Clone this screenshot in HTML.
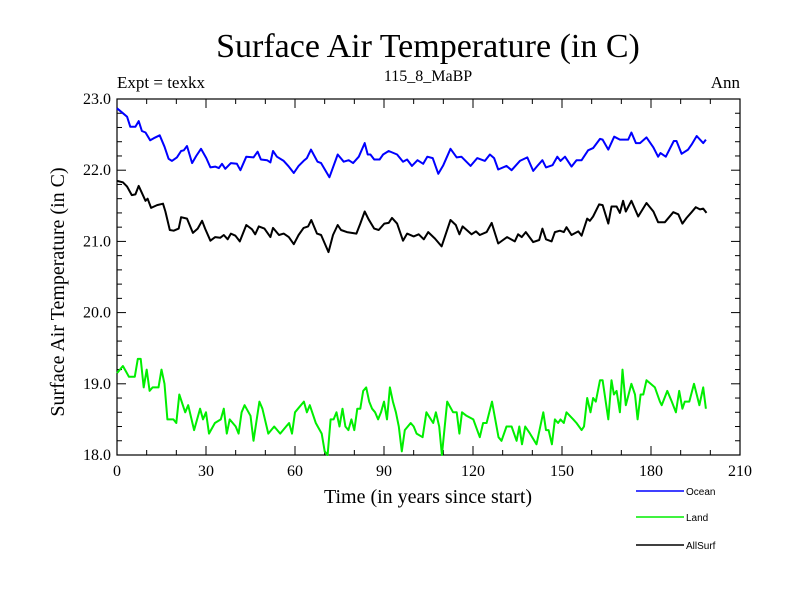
<!DOCTYPE html>
<html><head><meta charset="utf-8"><style>
body{margin:0;background:#fff}
svg text{font-family:"Liberation Serif",serif;fill:#000}
</style></head><body>
<svg id="chart" width="800" height="600" viewBox="0 0 800 600">
<text x="428" y="57" font-size="34" text-anchor="middle">Surface Air Temperature (in C)</text>
<text x="117" y="88" font-size="17">Expt = texkx</text>
<text x="428" y="81" font-size="16" text-anchor="middle">115_8_MaBP</text>
<text x="740" y="88" font-size="17" text-anchor="end">Ann</text>
<text transform="translate(64,292) rotate(-90)" font-size="20" text-anchor="middle">Surface Air Temperature (in C)</text>
<text x="428" y="503" font-size="20" text-anchor="middle">Time (in years since start)</text>
<g id="axes"></g>
<g id="series"></g>
<g id="legend"></g>
</svg>
<script>
const xTicks=[0,30,60,90,120,150,180,210];
const yTicks=[18.0,19.0,20.0,21.0,22.0,23.0];
const oceanYears=[0,2,3.4,4.5,6.2,7.3,8.4,9.6,11.2,12.4,14.4,16,17.4,18.5,20.2,21.6,22.5,23.6,25.3,26.7,28.3,30.1,31.5,33.1,34.3,35.4,36.5,38.4,40.4,41.6,43.6,46,47.4,48.5,50.6,51.7,52.6,53.9,56.2,57.9,59.6,61.2,62.9,64,65.4,67.6,68.8,71.6,74.4,76.4,78.1,79.6,81.5,83.5,84.5,85.4,86.7,88.5,89.7,91.6,94.4,96.4,97.8,99.4,101.3,103.2,104.6,106.4,108.3,110,112.4,114.5,116.1,119.2,121.4,124,125.7,127.1,128.5,131.3,133,135.8,138.3,140.3,141.7,143.4,144.6,146.8,148.4,149.5,151,153.2,154.9,156.6,158.8,160.5,162.8,163.7,165.6,167.6,169.5,172.3,173.4,174.9,176.3,178.5,180.8,182.4,183.2,185,187.7,188.6,190.3,192.5,193.7,195.4,197.6,198.5];
const oceanVals=[22.87,22.8,22.75,22.61,22.61,22.69,22.55,22.53,22.42,22.45,22.49,22.33,22.16,22.13,22.18,22.27,22.28,22.34,22.1,22.2,22.3,22.17,22.04,22.05,22.03,22.09,22.02,22.1,22.09,22.0,22.19,22.18,22.26,22.15,22.14,22.11,22.27,22.19,22.13,22.05,21.96,22.06,22.13,22.17,22.29,22.12,22.1,21.9,22.22,22.12,22.14,22.1,22.19,22.38,22.22,22.22,22.15,22.15,22.22,22.27,22.22,22.12,22.15,22.06,22.14,22.09,22.19,22.17,21.95,22.07,22.3,22.18,22.19,22.06,22.17,22.13,22.22,22.17,22.01,22.06,22.0,22.13,22.18,21.99,22.06,22.14,22.04,22.07,22.19,22.13,22.19,22.05,22.14,22.14,22.28,22.31,22.44,22.43,22.29,22.47,22.43,22.43,22.53,22.38,22.38,22.46,22.32,22.19,22.24,22.19,22.41,22.41,22.23,22.29,22.36,22.48,22.38,22.43];
const allYears=[0,2,3.4,5,6.2,7.3,9.6,10.3,11.5,13.5,15.5,16.3,17.8,19.1,20.8,21.6,23.6,25.6,27.2,28.7,29.7,31.5,33.1,34.8,36,37.3,38.4,39.9,41.4,43.6,45.5,46.6,47.8,49.7,51.7,52.6,54.6,56.2,57.9,59.6,61.2,62.9,64.4,65.5,67.4,68.8,71.3,72.8,74.4,75.5,77.5,80.7,82,83.5,84.8,86.7,88.2,90.1,91.6,92.7,94.4,96.4,97.8,100,101.7,103.4,104.9,107.2,109.4,112.4,114.2,115.4,116.5,119.5,121,122.3,124.6,126.3,128.5,131.5,134.1,135.2,136.4,137.8,140.3,142.3,143.4,144.6,146.5,147.6,149.3,150.6,151.5,153.2,155.5,156.6,158.5,159.4,160.5,162.5,163.7,165.6,166.7,168.4,169.5,170.6,171.5,173.4,175.7,178.5,180.8,182.4,184.7,187.5,189.2,190.6,192,193.7,195.1,196.5,197.6,198.7];
const allVals=[21.85,21.83,21.77,21.65,21.66,21.78,21.57,21.6,21.47,21.51,21.53,21.42,21.16,21.15,21.18,21.34,21.32,21.12,21.18,21.29,21.18,21.01,21.06,21.05,21.09,21.03,21.11,21.08,21.0,21.23,21.17,21.1,21.21,21.18,21.06,21.19,21.09,21.11,21.06,20.96,21.09,21.19,21.21,21.3,21.11,21.09,20.85,21.09,21.23,21.16,21.13,21.11,21.25,21.42,21.31,21.18,21.16,21.25,21.26,21.33,21.25,21.01,21.11,21.07,21.1,21.03,21.13,21.04,20.93,21.3,21.23,21.1,21.21,21.1,21.14,21.09,21.13,21.26,20.97,21.06,21.0,21.1,21.06,21.13,20.99,21.02,21.18,21.03,21.0,21.13,21.15,21.13,21.2,21.09,21.14,21.08,21.32,21.29,21.35,21.52,21.51,21.25,21.49,21.49,21.4,21.57,21.42,21.57,21.35,21.54,21.42,21.27,21.27,21.41,21.38,21.25,21.33,21.41,21.48,21.45,21.46,21.4];
const landYears=[0,2,4,6,7,8,9,10,11,12,14,15,16,17,19,20,21,23,24,26,28,29,30,31,33,35,36,37,38,40,41,42,43,45,46,48,49,51,53,55,57,58,59,60,61,63,64,65,67,69,70,71,72,73,74,75,76,77,78,79,80,81,82,83,84,85,86,87,88,89,90,91,92,93,94,95,96,97,99,100,101,103,104.3,106.6,107.5,108.6,109.5,111.3,113.3,114.5,115.4,116.3,117.8,120.1,122.3,123.4,124.6,126.4,128.6,129.6,131.3,133,134.7,135.6,136.5,137.6,139.2,141.4,143.7,144.6,145.5,146.6,147.6,148.7,149.5,150.6,151.5,153.8,154.9,156.6,157.4,158.5,159.6,160.5,161.4,162.8,163.7,165.6,166.7,167.5,168.4,169.5,170.4,171.5,173.4,174.6,175.5,176.5,177.4,178.5,181.3,183,183.6,185.5,187,188.4,189.5,190.6,191.4,192.9,194.5,196.3,197.6,198.5];
const landVals=[19.15,19.25,19.1,19.1,19.35,19.35,18.95,19.2,18.9,18.95,18.95,19.2,19.0,18.5,18.5,18.45,18.85,18.6,18.7,18.35,18.65,18.5,18.6,18.3,18.45,18.5,18.65,18.3,18.5,18.4,18.3,18.6,18.7,18.55,18.2,18.75,18.65,18.3,18.4,18.3,18.4,18.45,18.3,18.6,18.65,18.75,18.6,18.7,18.45,18.3,18.05,18.0,18.5,18.5,18.6,18.4,18.65,18.4,18.35,18.5,18.35,18.65,18.65,18.9,18.95,18.75,18.65,18.6,18.5,18.6,18.75,18.5,18.95,18.75,18.6,18.4,18.05,18.35,18.45,18.4,18.3,18.25,18.6,18.45,18.6,18.4,18.0,18.75,18.6,18.6,18.3,18.6,18.55,18.5,18.25,18.45,18.45,18.75,18.25,18.2,18.4,18.4,18.2,18.4,18.15,18.4,18.3,18.15,18.6,18.35,18.35,18.15,18.5,18.45,18.5,18.45,18.6,18.5,18.45,18.35,18.4,18.8,18.6,18.8,18.75,19.05,19.05,18.5,19.05,18.85,18.9,18.6,19.2,18.7,19.0,18.85,18.5,18.85,18.85,19.05,18.95,18.75,18.7,18.9,18.75,18.6,18.9,18.65,18.75,18.75,19.0,18.7,18.95,18.65];

const NS="http://www.w3.org/2000/svg";
const X0=117,X1=740,Y0=455,Y1=99;
function sx(v){return X0+(v-0)/(210-0)*(X1-X0);}
function sy(v){return Y0-(v-18)/(23-18)*(Y0-Y1);}
function mk(tag,attrs,parent){const e=document.createElementNS(NS,tag);for(const k in attrs)e.setAttribute(k,attrs[k]);parent.appendChild(e);return e;}
const axes=document.getElementById('axes');
const frame=mk('rect',{x:X0,y:Y1,width:X1-X0,height:Y0-Y1,fill:'none',stroke:'#000','stroke-width':1.2},axes);


for(let t=0;t<=210;t+=10){const L=(t%30===0)?9:5;const x=sx(t);
 const a=mk('line',{x1:x,x2:x,y1:Y0,y2:Y0-L,stroke:'#000'},axes);
 const b=mk('line',{x1:x,x2:x,y1:Y1,y2:Y1+L,stroke:'#000'},axes);}
for(let i=0;i<=25;i++){const v=18+i*0.2;const L=(i%5===0)?9:5;const y=sy(v);
 const a=mk('line',{x1:X0,x2:X0+L,y1:y,y2:y,stroke:'#000'},axes);
 const b=mk('line',{x1:X1,x2:X1-L,y1:y,y2:y,stroke:'#000'},axes);}
xTicks.forEach(t=>{const e=mk('text',{x:sx(t),y:476,'font-size':16,'text-anchor':'middle'},axes);e.textContent=t;
 });
yTicks.forEach(t=>{const e=mk('text',{x:X0-6,y:sy(t)+5,'font-size':16,'text-anchor':'end'},axes);e.textContent=t.toFixed(1);
 });
const ser=document.getElementById('series');
function line(xs,vs,color,name){const d=xs.map((x,i)=>(i?'L':'M')+sx(x).toFixed(1)+','+sy(vs[i]).toFixed(1)).join('');
 const p=mk('path',{d:d,fill:'none',stroke:color,'stroke-width':2,'stroke-linejoin':'round'},ser);
 }
line(landYears,landVals,'#00ee00','land-line');
line(allYears,allVals,'#000000','allsurf-line');
line(oceanYears,oceanVals,'#0000ff','ocean-line');
const lg=document.getElementById('legend');
[['Ocean','#0000ff',491],['Land','#00ee00',517],['AllSurf','#000',545]].forEach(([n,c,y])=>{
 const g=mk('g',{},lg);
 mk('line',{x1:636,x2:684,y1:y,y2:y,stroke:c,'stroke-width':1.5},g);
 const t=mk('text',{x:686,y:y+4,'font-size':10,style:'font-family:"Liberation Sans",sans-serif'},g);t.textContent=n;
 });
</script>
</body></html>
